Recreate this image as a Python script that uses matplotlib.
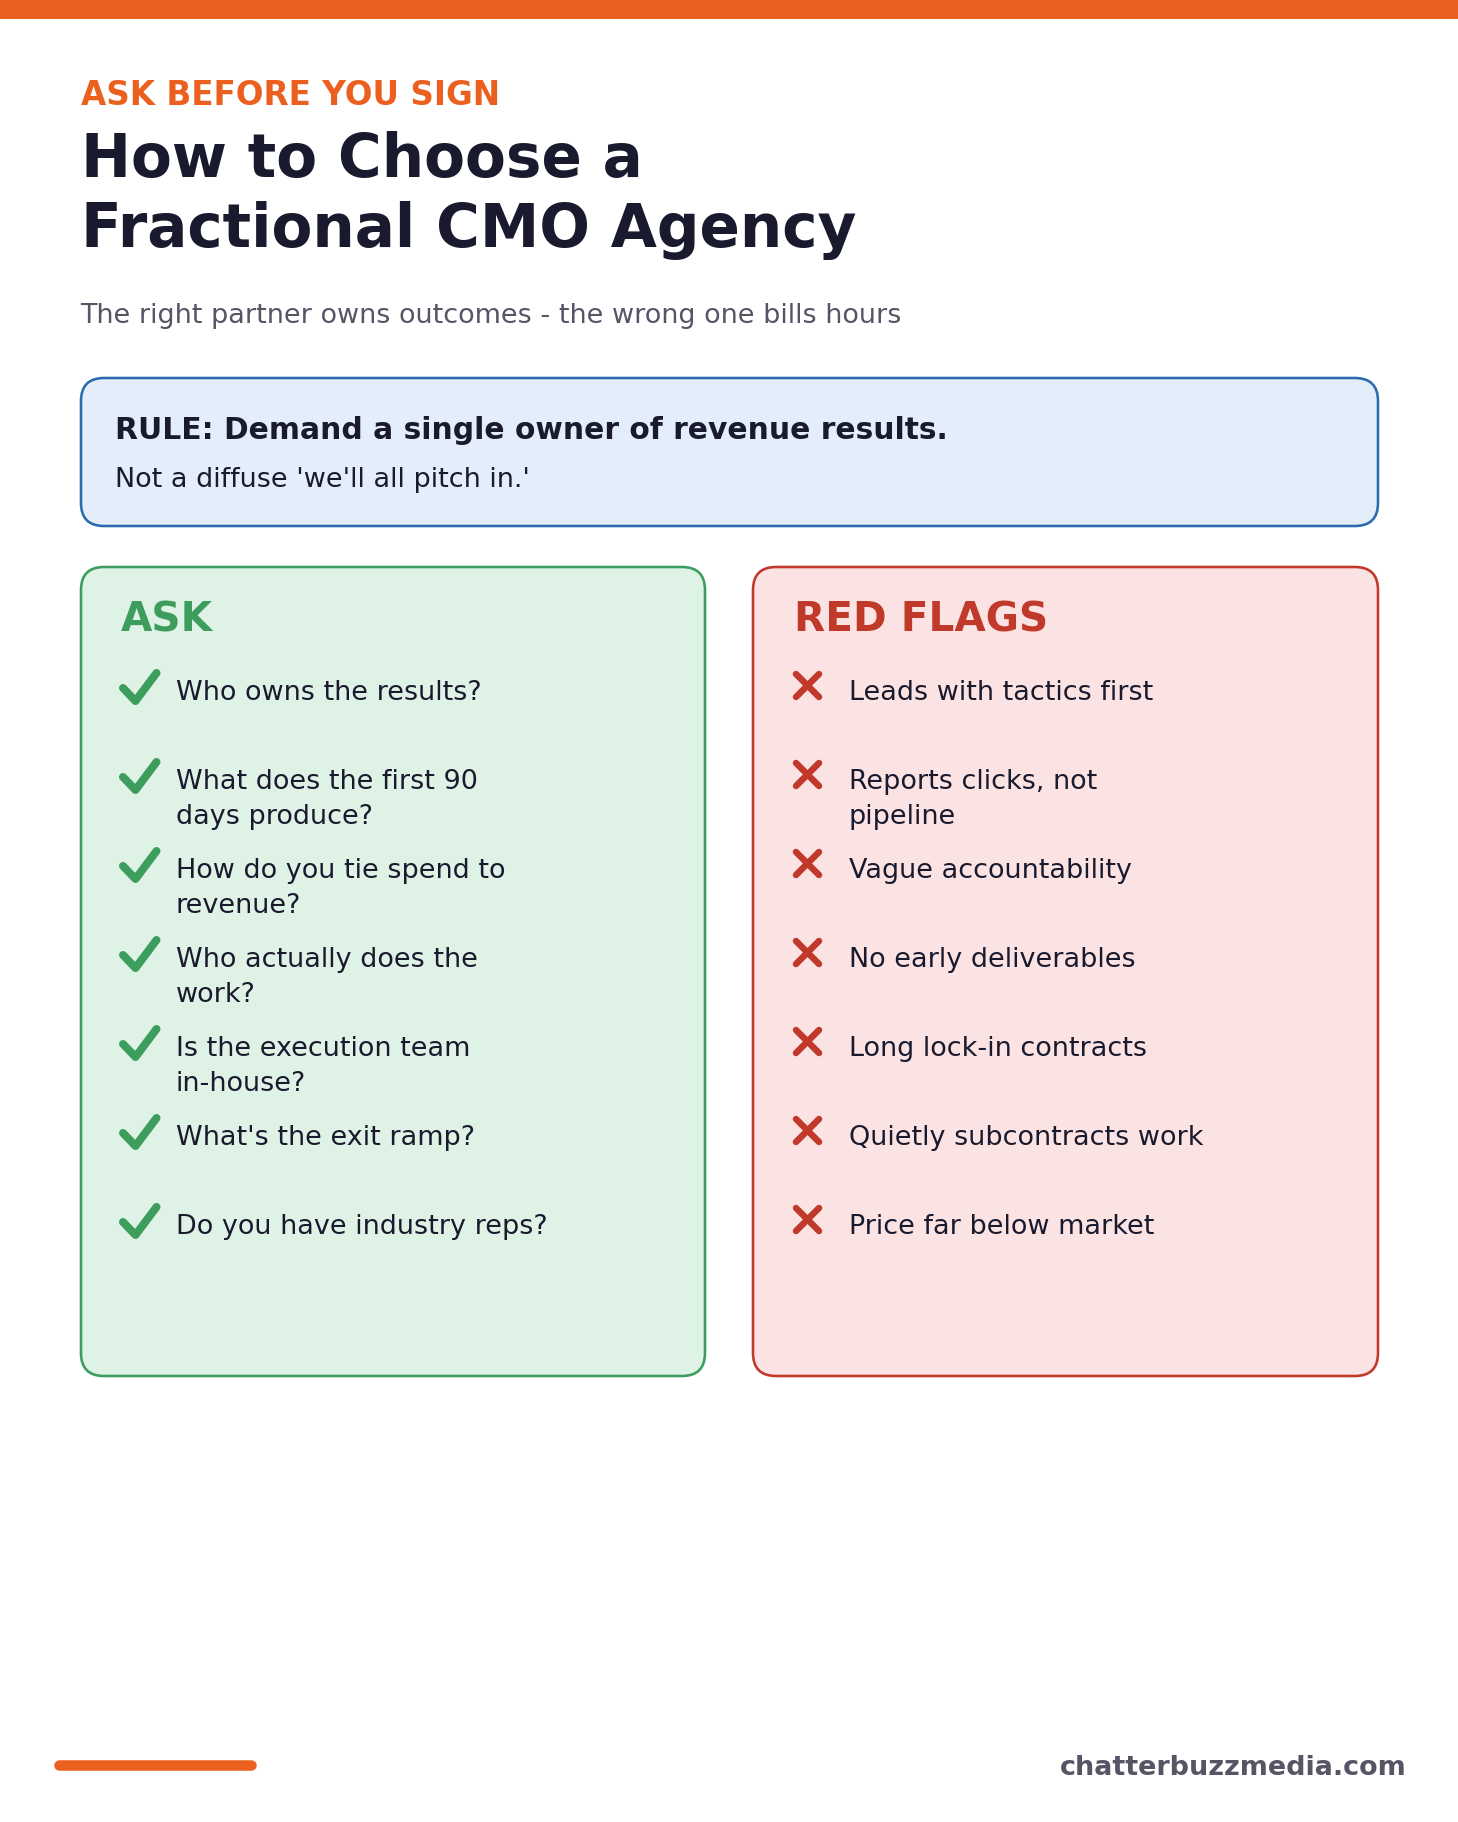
import matplotlib
matplotlib.use("Agg")
from matplotlib import pyplot as plt
from matplotlib.patches import FancyBboxPatch, Rectangle

ORANGE = "#EB5F1F"
NAVY = "#1A1A2E"
GREY = "#555566"
GREEN = "#3C9D5D"
RED = "#C0392B"
BLUE = "#2B6CB0"

eyebrow = "ASK BEFORE YOU SIGN"
title_lines = ["How to Choose a", "Fractional CMO Agency"]
subtitle = "The right partner owns outcomes - the wrong one bills hours"
rule_head = "RULE: Demand a single owner of revenue results."
rule_body = "Not a diffuse 'we'll all pitch in.'"
footer = "chatterbuzzmedia.com"

ask_items = [
    "Who owns the results?",
    "What does the first 90\ndays produce?",
    "How do you tie spend to\nrevenue?",
    "Who actually does the\nwork?",
    "Is the execution team\nin-house?",
    "What's the exit ramp?",
    "Do you have industry reps?",
]
flag_items = [
    "Leads with tactics first",
    "Reports clicks, not\npipeline",
    "Vague accountability",
    "No early deliverables",
    "Long lock-in contracts",
    "Quietly subcontracts work",
    "Price far below market",
]

W, H = 1458, 1822
ROW_TOP = 702
ROW_STEP = 89
LINE_STEP = 35


def pt(px):
    # sizes below are read in pixels off the reference
    return px * 72 / 100


def add_box(ax, x0, y0, x1, y1, face, edge):
    r = 23
    box = FancyBboxPatch((x0 + r, y0 + r), x1 - x0 - 2 * r, y1 - y0 - 2 * r,
                         boxstyle=f"round,pad={r},rounding_size={r}",
                         facecolor=face, edgecolor=edge, linewidth=pt(2.6))
    ax.add_patch(box)


def add_check(ax, y):
    ax.plot([123, 135.5, 156.5], [y - 14, y - 1, y - 29], color=GREEN, lw=pt(8),
            solid_capstyle="round", solid_joinstyle="round")


def add_cross(ax, y):
    ax.plot([796, 819], [y - 28, y - 5], color=RED, lw=pt(6.5), solid_capstyle="round")
    ax.plot([796, 819], [y - 5, y - 28], color=RED, lw=pt(6.5), solid_capstyle="round")


def add_column(ax, items, text_x, marker):
    for i, item in enumerate(items):
        y = ROW_TOP + i * ROW_STEP
        marker(ax, y)
        for j, line in enumerate(item.split("\n")):
            ax.text(text_x + 1, y - 2 + j * LINE_STEP, line, fontsize=pt(27), color=NAVY, va="baseline")


fig = plt.figure(figsize=(W / 100, H / 100), dpi=100)
ax = fig.add_axes([0, 0, 1, 1])
ax.set_xlim(0, W)
ax.set_ylim(H, 0)
ax.axis("off")

ax.add_patch(Rectangle((0, 0), W, 19, facecolor=ORANGE, edgecolor="none"))

ax.text(81, 105, eyebrow, fontsize=pt(32.6), fontweight="bold", color=ORANGE, va="baseline")
for i, line in enumerate(title_lines):
    ax.text(81, 177 + i * 70, line, fontsize=pt(59.7), fontweight="bold", color=NAVY, va="baseline")
ax.text(80, 323, subtitle, fontsize=pt(27), color=GREY, va="baseline")

add_box(ax, 81, 378, 1378, 526, "#E3EEFA", BLUE)
ax.text(115, 439, rule_head, fontsize=pt(29.8), fontweight="bold", color=NAVY, va="baseline")
ax.text(115, 487, rule_body, fontsize=pt(27), color=NAVY, va="baseline")

add_box(ax, 81, 567, 705, 1376, "#DFF2E6", GREEN)
add_box(ax, 753, 567, 1378, 1376, "#FBE3E3", RED)
ax.text(121, 631, "ASK", fontsize=pt(40.5), fontweight="bold", color=GREEN, va="baseline")
ax.text(794, 631, "RED FLAGS", fontsize=pt(40.5), fontweight="bold", color=RED, va="baseline")

add_column(ax, ask_items, 175, add_check)
add_column(ax, flag_items, 848, add_cross)

ax.plot([59, 251], [1765, 1765], color=ORANGE, lw=pt(10.5), solid_capstyle="round")
ax.text(1407, 1775, footer, fontsize=pt(27), fontweight="bold", color=GREY, ha="right", va="baseline")

fig.savefig("out.png", dpi=100, facecolor="white")
